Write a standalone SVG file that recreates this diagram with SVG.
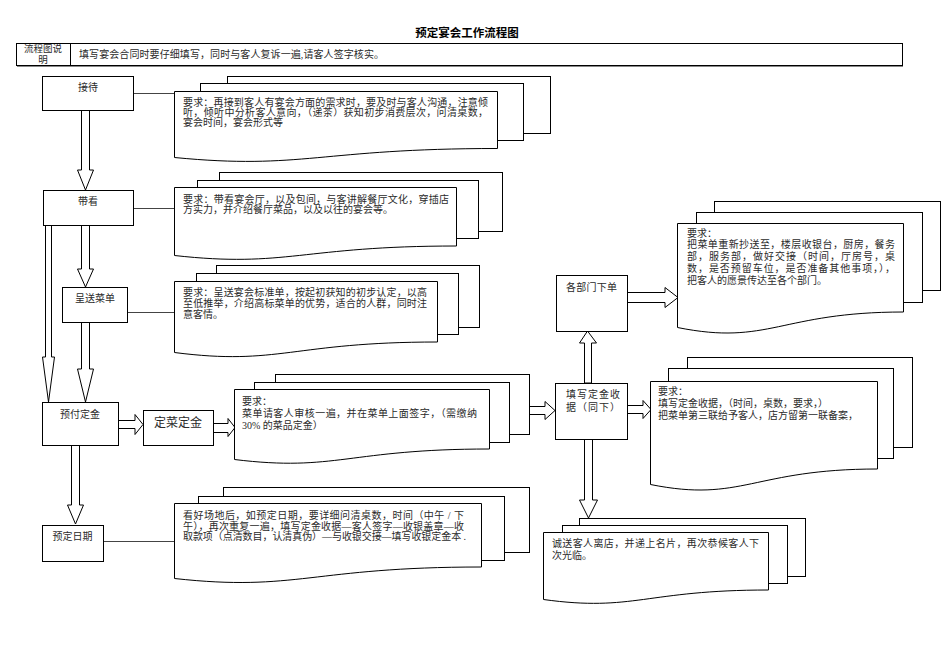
<svg xmlns="http://www.w3.org/2000/svg" width="950" height="672" viewBox="0 0 950 672">
<style>
text{font-family:"Liberation Serif","Noto Sans CJK SC",serif;font-size:10px;fill:#2a2a2a}
.box{fill:#fff;stroke:#000;stroke-width:1}
.pg{fill:#fff;stroke:#000;stroke-width:1}
.doc{fill:#fff;stroke:#000;stroke-width:1}
.con{stroke:#444;stroke-width:1;fill:none}
.blk{fill:#fff;stroke:#000;stroke-width:1}
.c{text-anchor:middle}
</style>
<rect width="950" height="672" fill="#fff"/>
<text x="467" y="37" class="c" style="font-size:11.5px;font-weight:bold;fill:#000">预定宴会工作流程图</text>
<g id="header">
<rect x="16.5" y="43.5" width="886" height="22" fill="#fff" stroke="#000"/>
<line x1="17" y1="66.5" x2="903" y2="66.5" stroke="#888"/>
<line x1="70.5" y1="43.5" x2="70.5" y2="65.5" stroke="#000"/>
<text x="43" y="52" class="c" style="font-size:9.5px">流程图说</text>
<text x="43" y="63" class="c" style="font-size:9.5px">明</text>
<text x="79" y="58" textLength="305" lengthAdjust="spacing">填写宴会合同时要仔细填写，同时与客人复诉一遍,请客人签字核实。</text>
</g>
<g id="connectors">
<line class="con" x1="133" y1="93.5" x2="174" y2="93.5"/>
<line class="con" x1="133" y1="208.5" x2="174" y2="208.5"/>
<line class="con" x1="127" y1="312.5" x2="174" y2="312.5"/>
<line class="con" x1="103" y1="541.5" x2="174" y2="541.5"/>
<polygon class="blk" points="81.5,110 89.5,110 89.5,170 93.5,170 85.5,190 77.5,170 81.5,170"/>
<polygon class="blk" points="81.5,225 89.5,225 89.5,269 93.5,269 85.5,287 77.5,269 81.5,269"/>
<polygon class="blk" points="45.5,225 51.5,225 51.5,357 54.5,357 48.5,402 42.5,357 45.5,357"/>
<polygon class="blk" points="81.5,322 89.5,322 89.5,369 93.5,369 85.5,402 77.5,369 81.5,369"/>
<polygon class="blk" points="71.5,445 79.5,445 79.5,505 83.5,505 75.5,524 67.5,505 71.5,505"/>
<polygon class="blk" points="118,420.5 135,420.5 135,414.5 143,424.5 135,434.5 135,428.5 118,428.5"/>
<polygon class="blk" points="213,423.5 228,423.5 228,418.5 235,427.5 228,436.5 228,432.5 213,432.5"/>
<polygon class="blk" points="529,406.5 545,406.5 545,401.5 555,410.5 545,419.5 545,414.5 529,414.5"/>
<polygon class="blk" points="627,405.5 643,405.5 643,400.5 651,409.5 643,418.5 643,413.5 627,413.5"/>
<polygon class="blk" points="584.5,383 584.5,343 579.5,343 587.5,331 596.5,343 591.5,343 591.5,383"/>
<polygon class="blk" points="584.5,439 592.5,439 592.5,500 597.5,500 588.5,518 579.5,500 584.5,500"/>
<polygon class="blk" points="627,292.5 665,292.5 665,287.5 678,297.5 665,307.5 665,302.5 627,302.5"/>
</g>
<g id="n-jiedai">
<rect class="box" x="42.5" y="76.5" width="91" height="34"/>
<text x="88" y="91" class="c">接待</text>
</g>
<g id="d-jiedai">
<rect class="pg" x="227.5" y="76.5" width="323" height="57"/>
<rect class="pg" x="200.5" y="83.5" width="323" height="57"/>
<path class="doc" d="M174.5,91.5 H497.5 V148.5 C319,148.5 303,170 174.5,157.5 Z"/>
<text x="183" y="106" textLength="305" lengthAdjust="spacing">要求：再接到客人有宴会方面的需求时，要及时与客人沟通，注意倾</text>
<text x="183" y="116" textLength="305" lengthAdjust="spacing">听，倾听中分析客人意向，（递茶）获知初步消费层次，问清桌数，</text>
<text x="183" y="126">宴会时间，宴会形式等</text>
</g>
<g id="n-daikan">
<rect class="box" x="43.5" y="190.5" width="90" height="35"/>
<text x="88" y="205" class="c">带看</text>
</g>
<g id="d-daikan">
<rect class="pg" x="219.5" y="172.5" width="283" height="59"/>
<rect class="pg" x="197.5" y="180.5" width="281" height="58"/>
<path class="doc" d="M174.5,187.5 H456.5 V246 C301,246 287,268 174.5,255.5 Z"/>
<text x="183" y="203" textLength="266" lengthAdjust="spacing">要求：带看宴会厅，以及包间，与客讲解餐厅文化，穿插店</text>
<text x="183" y="213">方实力，并介绍餐厅菜品，以及以往的宴会等。</text>
</g>
<g id="n-chengsong">
<rect class="box" x="62.5" y="287.5" width="65" height="35"/>
<text x="95" y="302" class="c">呈送菜单</text>
</g>
<g id="d-chengsong">
<rect class="pg" x="216.5" y="265.5" width="263" height="62"/>
<rect class="pg" x="196.5" y="273.5" width="262" height="61"/>
<path class="doc" d="M174.5,281.5 H437.5 V342 C292,342 279,366 174.5,352.5 Z"/>
<text x="183" y="296" textLength="244" lengthAdjust="spacing">要求：呈送宴会标准单，按起初获知的初步认定，以高</text>
<text x="183" y="307" textLength="244" lengthAdjust="spacing">至低推举，介绍高标菜单的优势，适合的人群，同时注</text>
<text x="183" y="318">意客情。</text>
</g>
<g id="n-yufu">
<rect class="box" x="42.5" y="402.5" width="76" height="43"/>
<text x="80" y="418" class="c">预付定金</text>
</g>
<g id="n-dingcai">
<rect class="box" x="143.5" y="410.5" width="70" height="35"/>
<text x="178" y="427" class="c" style="font-size:12px">定菜定金</text>
</g>
<g id="d-dingcai">
<rect class="pg" x="275.5" y="374.5" width="254" height="60"/>
<rect class="pg" x="254.5" y="382.5" width="255" height="60"/>
<path class="doc" d="M234.5,389.5 H489.5 V449 C348,449 336,472 234.5,459.5 Z"/>
<text x="242" y="405">要求：</text>
<text x="242" y="417" textLength="235" lengthAdjust="spacing">菜单请客人审核一遍，并在菜单上面签字，（需缴纳</text>
<text x="242" y="429">30% 的菜品定金）</text>
</g>
<g id="n-yuding">
<rect class="box" x="42.5" y="525.5" width="61" height="36"/>
<text x="72.5" y="540" class="c">预定日期</text>
</g>
<g id="d-yuding">
<rect class="pg" x="223.5" y="487.5" width="306" height="65"/>
<rect class="pg" x="198.5" y="496.5" width="306" height="64"/>
<path class="doc" d="M174.5,503.5 H481.5 V567 C311,567 297,592 174.5,578.5 Z"/>
<text x="183" y="519" textLength="281" lengthAdjust="spacing">看好场地后，如预定日期，要详细问清桌数，时间（中午 / 下</text>
<text x="183" y="530" textLength="281" lengthAdjust="spacing">午），再次重复一遍，填写定金收据—客人签字—收银盖章—收</text>
<text x="183" y="540" textLength="283" lengthAdjust="spacing">取款项（点清数目，认清真伪）—与收银交接—填写收银定金本 .</text>
</g>
<g id="n-tianxie">
<rect class="box" x="555.5" y="383.5" width="72" height="56"/>
<text x="566" y="398" textLength="54" lengthAdjust="spacing">填写定金收</text>
<text x="566" y="411" textLength="54" lengthAdjust="spacing">据（同下）</text>
</g>
<g id="n-gebumen">
<rect class="box" x="556.5" y="275.5" width="71" height="56"/>
<text x="566" y="291" textLength="51" lengthAdjust="spacing">各部门下单</text>
</g>
<g id="d-gebumen">
<rect class="pg" x="714.5" y="201.5" width="226" height="89"/>
<rect class="pg" x="696.5" y="212.5" width="226" height="90"/>
<path class="doc" d="M677.5,223.5 H903.5 V312 C780,312 769,346 677.5,327.5 Z"/>
<text x="687" y="237">要求：</text>
<text x="687" y="248" textLength="208" lengthAdjust="spacing">把菜单重新抄送至，楼层收银台，厨房，餐务</text>
<text x="687" y="260" textLength="208" lengthAdjust="spacing">部，服务部，做好交接（时间，厅房号，桌</text>
<text x="687" y="272" textLength="208" lengthAdjust="spacing">数，是否预留车位，是否准备其他事项，），</text>
<text x="687" y="284">把客人的愿景传达至各个部门。</text>
</g>
<g id="d-tianxie">
<rect class="pg" x="687.5" y="357.5" width="225" height="90"/>
<rect class="pg" x="668.5" y="368.5" width="225" height="90"/>
<path class="doc" d="M650.5,381.5 H877.5 V469 C753,469 742,503 650.5,484.5 Z"/>
<text x="658" y="395">要求：</text>
<text x="658" y="407">填写定金收据，（时间，桌数，要求，）</text>
<text x="658" y="419">把菜单第三联给予客人，店方留第一联备案，</text>
</g>
<g id="d-chengsong2">
<rect class="pg" x="579.5" y="518.5" width="226" height="58"/>
<rect class="pg" x="562.5" y="525.5" width="225" height="58"/>
<path class="doc" d="M543.5,532.5 H768.5 V590 C645,590 634,612 543.5,599.5 Z"/>
<text x="552" y="547" textLength="207" lengthAdjust="spacing">诚送客人离店，并递上名片，再次恭候客人下</text>
<text x="552" y="559">次光临。</text>
</g>
</svg>
